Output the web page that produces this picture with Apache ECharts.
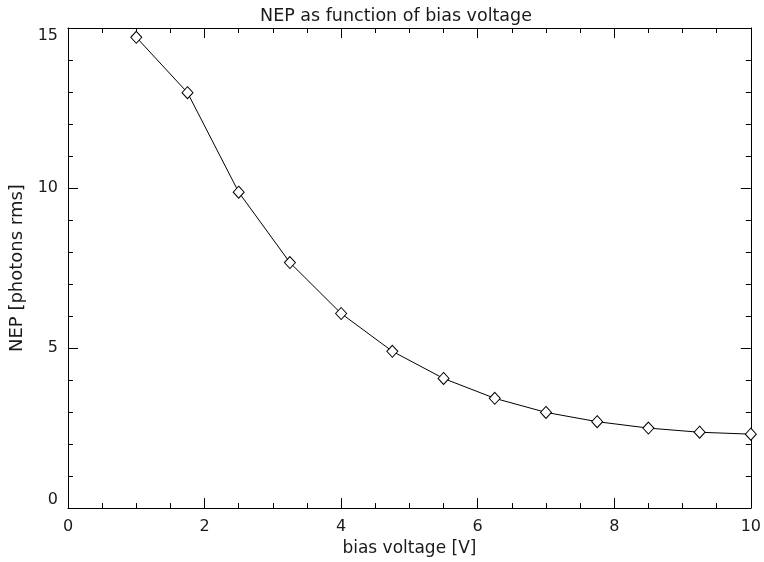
<!DOCTYPE html>
<html>
<head>
<meta charset="utf-8">
<script src="https://cdn.jsdelivr.net/npm/echarts@6/dist/echarts.min.js"></script>
<style>
html,body{margin:0;padding:0;background:#fff;}
#chart{width:764px;height:562px;}
</style>
</head>
<body>
<div id="chart"></div>
<script>
const biasVoltage = [1, 1.75, 2.5, 3.25, 4, 4.75, 5.5, 6.25, 7, 7.75, 8.5, 9.25, 10];
const nepValues = [14.71, 12.98, 9.87, 7.67, 6.08, 4.90, 4.05, 3.43, 2.99, 2.70, 2.50, 2.37, 2.31];
const titleText = 'NEP as function of bias voltage';
const xName = 'bias voltage [V]';
const yName = 'NEP [photons rms]';

const FONT = 'DejaVu Sans';
const TEXT_COLOR = '#1a1a1a';
const chart = echarts.init(document.getElementById('chart'), null, {renderer: 'canvas'});
const lineStyle = {color: '#000', width: 1};
function axisBase(extra) {
  return Object.assign({
    axisLine: {show: true, onZero: false, lineStyle: lineStyle},
    axisTick: {show: true, inside: true, length: 10, lineStyle: lineStyle},
    minorTick: {show: true, length: 5, lineStyle: lineStyle},
    splitLine: {show: false},
    minorSplitLine: {show: false}
  }, extra);
}
const labelStyle = {color: TEXT_COLOR, fontSize: 16, fontFamily: FONT, fontWeight: 'normal'};

chart.setOption({
  animation: false,
  backgroundColor: '#fff',
  title: {
    text: titleText, left: 391, top: 2, textAlign: 'center',
    textStyle: {color: TEXT_COLOR, fontSize: 17.5, fontWeight: 'normal', fontFamily: FONT}
  },
  grid: {left: 68, right: 10, top: 28, bottom: 53, containLabel: false},
  xAxis: [
    axisBase({
      type: 'value', min: 0, max: 10, interval: 2, position: 'bottom',
      minorTick: {show: true, splitNumber: 4, length: 5, lineStyle: lineStyle},
      axisLabel: Object.assign({margin: 11}, labelStyle),
      name: xName, nameLocation: 'middle', nameGap: 31,
      nameTextStyle: {color: TEXT_COLOR, fontSize: 17, fontFamily: FONT}
    }),
    axisBase({
      type: 'value', min: 0, max: 10, interval: 2, position: 'top',
      minorTick: {show: true, splitNumber: 4, length: 5, lineStyle: lineStyle},
      axisLabel: {show: false}
    })
  ],
  yAxis: [
    axisBase({
      type: 'value', min: 0, max: 15, interval: 5, position: 'left',
      minorTick: {show: true, splitNumber: 5, length: 5, lineStyle: lineStyle},
      axisLabel: Object.assign({margin: 10, verticalAlignMinLabel: 'bottom', verticalAlignMaxLabel: 'top'}, labelStyle),
      name: yName, nameLocation: 'middle', nameGap: 35, nameRotate: 90,
      nameTextStyle: {color: TEXT_COLOR, fontSize: 18, fontFamily: FONT}
    }),
    axisBase({
      type: 'value', min: 0, max: 15, interval: 5, position: 'right',
      minorTick: {show: true, splitNumber: 5, length: 5, lineStyle: lineStyle},
      axisLabel: {show: false}
    })
  ],
  series: [{
    type: 'line',
    data: biasVoltage.map((v, i) => [v, nepValues[i]]),
    symbol: 'diamond',
    symbolSize: [11, 12],
    showAllSymbol: true,
    clip: false,
    lineStyle: {color: '#000', width: 1},
    itemStyle: {color: '#fff', borderColor: '#000', borderWidth: 1}
  }]
});
</script>
</body>
</html>
